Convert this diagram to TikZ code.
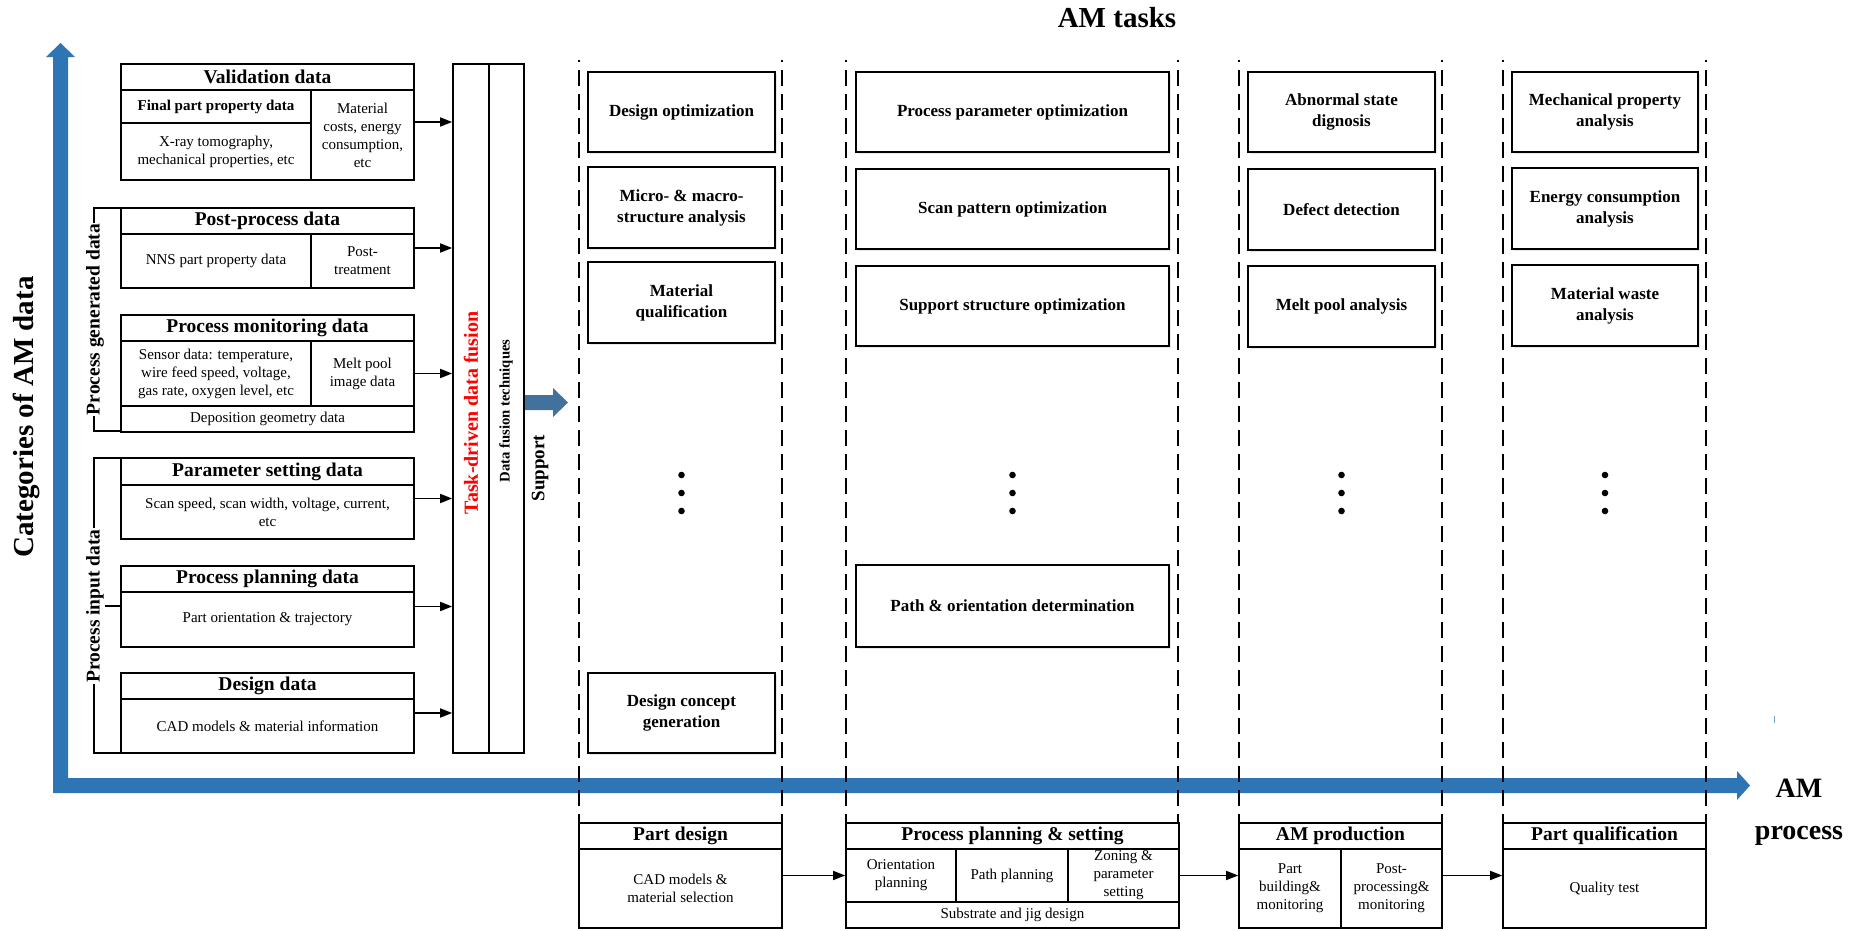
\documentclass[tikz,border=0pt]{standalone}
\usepackage{fontspec}
\setmainfont{Liberation Serif}
\usetikzlibrary{arrows.meta,shadows}
\definecolor{axisblue}{RGB}{46,117,182}
\definecolor{supportblue}{RGB}{65,113,156}

\tikzset{
  frame/.style={draw, line width=1.6pt, fill=white, inner sep=0pt, align=center},
  taskbox/.style={frame, font=\bfseries\fontsize{17}{21}\selectfont,
    drop shadow={shadow xshift=1.5pt, shadow yshift=-2pt, opacity=0.18}},
  title/.style={inner sep=0pt, font=\bfseries\fontsize{19.5}{22}\selectfont},
  subtitle/.style={inner sep=0pt, font=\bfseries\fontsize{15}{18}\selectfont},
  body/.style={inner sep=0pt, align=center, font=\fontsize{15}{18}\selectfont},
  div/.style={line width=1.3pt},
  conn/.style={line width=1.6pt, -{Triangle[length=12pt,width=9pt]}},
  lane/.style={line width=1.5pt, dash pattern=on 16pt off 8pt, dash phase=14pt},
  vlabel/.style={inner sep=1pt, rotate=90, font=\bfseries\fontsize{19.5}{22}\selectfont},
}

% box from corner (x1,y1) to corner (x2,y2), in picture units
\newcommand\mkbox[7][frame]{%
  \node[#1, minimum width={(#5)-(#3)}, minimum height={(#6)-(#4)}] (#2)
    at ({((#3)+(#5))/2},{((#4)+(#6))/2}) {#7};}

\begin{document}
\begin{tikzpicture}[x=1pt, y=-1pt]
\useasboundingbox (0,0) rectangle (1868,930);

% ---- axes ----
\fill[axisblue] (53,57) -- (46,57) -- (60.5,43) -- (75,57) -- (68,57) -- (68,778)
  -- (1737,778) -- (1737,771) -- (1750,785.5) -- (1737,800) -- (1737,793)
  -- (53,793) -- cycle;
\draw[axisblue!70, line width=1.2pt] (1774.5,716) -- (1774.5,723);

\node[inner sep=0pt, rotate=90, font=\bfseries\fontsize{29}{34}\selectfont] (ylab) at (26,417) {Categories of AM data};
\node[inner sep=0pt, align=center, font=\bfseries\fontsize{28}{42}\selectfont] (xlab) at (1799,812) {AM\\process};
\node[inner sep=0pt, font=\bfseries\fontsize{29}{34}\selectfont] (tasks) at (1117,18) {AM tasks};

% ---- lanes ----
\foreach \lx in {579,782,846,1178,1239,1442,1503,1706}
  \draw[lane] (\lx,60) -- (\lx,823);

% ---- data categories ----
\mkbox{val}{121}{64}{414}{180}{}
\node[title] (valT) at (267.5,77) {Validation data};
\draw[div] (121,90) -- (414,90);
\draw[div] (311,90) -- (311,180);
\draw[div] (121,123) -- (311,123);
\node[subtitle] (valF) at (216,106.5) {Final part property data};
\node[body] (valX) at (216,151.5) {X-ray tomography,\\mechanical properties, etc};
\node[body] (valM) at (362.5,135.5) {Material\\costs, energy\\consumption,\\etc};

\mkbox{post}{121}{208}{414}{288}{}
\node[title] (postT) at (267.5,221) {Post-process data};
\draw[div] (121,234) -- (414,234);
\draw[div] (311,234) -- (311,288);
\node[body] (postN) at (216,261) {NNS part property data};
\node[body] (postP) at (362.5,261) {Post-\\treatment};

\mkbox{mon}{121}{315}{414}{432}{}
\node[title] (monT) at (267.5,328) {Process monitoring data};
\draw[div] (121,341) -- (414,341);
\draw[div] (121,406) -- (414,406);
\draw[div] (311,341) -- (311,406);
\node[body] (monS) at (216,373.5) {Sensor data: temperature,\\wire feed speed, voltage,\\gas rate, oxygen level, etc};
\node[body] (monM) at (362.5,373.5) {Melt pool\\image data};
\node[body] (monD) at (267.5,419) {Deposition geometry data};

\mkbox{par}{121}{458}{414}{539}{}
\node[title] (parT) at (267.5,471.5) {Parameter setting data};
\draw[div] (121,485) -- (414,485);
\node[body] (parS) at (267.5,512) {Scan speed, scan width, voltage, current,\\etc};

\mkbox{plan}{121}{566}{414}{647}{}
\node[title] (planT) at (267.5,579) {Process planning data};
\draw[div] (121,592) -- (414,592);
\node[body] (planP) at (267.5,619.5) {Part orientation \& trajectory};

\mkbox{des}{121}{673}{414}{753}{}
\node[title] (desT) at (267.5,686) {Design data};
\draw[div] (121,699) -- (414,699);
\node[body] (desC) at (267.5,726) {CAD models \& material information};

% group brackets
\draw[div] (121,208) -- (94,208) -- (94,431) -- (121,431);
\node[vlabel, fill=white] (gen) at (95,319.5) {Process generated data};
\draw[div] (121,458) -- (94,458) -- (94,753) -- (121,753);
\draw[div] (94,606) -- (121,606);
\node[vlabel, fill=white] (inp) at (95,606) {Process input data};

% ---- fusion column ----
\mkbox{fus}{453}{64}{524}{753}{}
\draw[div] (489,64) -- (489,753);
\node[inner sep=0pt, rotate=90, text=red, font=\bfseries\fontsize{20}{24}\selectfont] (fusA) at (471,413) {Task-driven data fusion};
\node[inner sep=0pt, rotate=90, font=\bfseries\fontsize{14.7}{18}\selectfont] (fusB) at (506,411) {Data fusion techniques};

\foreach \src in {val,post,mon,par,plan,des}
  \draw[conn] (\src.east) -- (\src.east -| fus.west);

% support arrow
\fill[supportblue] (525,395) -- (553,395) -- (553,388) -- (568,402.5) -- (553,417) -- (553,410) -- (525,410) -- cycle;
\node[inner sep=0pt, rotate=90, font=\bfseries\fontsize{19}{22}\selectfont] (sup) at (540,468) {Support};

% ---- task boxes ----
\mkbox[taskbox]{t11}{588}{72}{775}{152}{Design optimization}
\mkbox[taskbox]{t12}{588}{167}{775}{248}{Micro- \& macro-\\structure analysis}
\mkbox[taskbox]{t13}{588}{262}{775}{343}{Material\\qualification}
\mkbox[taskbox]{t14}{588}{673}{775}{753}{Design concept\\generation}

\mkbox[taskbox]{t21}{856}{72}{1169}{152}{Process parameter optimization}
\mkbox[taskbox]{t22}{856}{169}{1169}{249}{Scan pattern optimization}
\mkbox[taskbox]{t23}{856}{266}{1169}{346}{Support structure optimization}
\mkbox[taskbox]{t24}{856}{565}{1169}{647}{Path \& orientation determination}

\mkbox[taskbox]{t31}{1248}{72}{1435}{152}{Abnormal state\\dignosis}
\mkbox[taskbox]{t32}{1248}{169}{1435}{250}{Defect detection}
\mkbox[taskbox]{t33}{1248}{266}{1435}{347}{Melt pool analysis}

\mkbox[taskbox]{t41}{1512}{72}{1698}{152}{Mechanical property\\analysis}
\mkbox[taskbox]{t42}{1512}{168}{1698}{249}{Energy consumption\\analysis}
\mkbox[taskbox]{t43}{1512}{265}{1698}{346}{Material waste\\analysis}

% vertical ellipses
\foreach \cx in {681.5,1012.5,1341.5,1605}
  \foreach \cy in {475,493,511}
    \fill (\cx,\cy) circle (3.3);

% ---- process stages ----
\mkbox{pd}{579}{823}{782}{928}{}
\node[title] (pdT) at (680.5,836) {Part design};
\draw[div] (579,849) -- (782,849);
\node[body] (pdC) at (680.5,888) {CAD models \&\\material selection};

\mkbox{pp}{846}{823}{1179}{928}{}
\node[title] (ppT) at (1012.5,836) {Process planning \& setting};
\draw[div] (846,849) -- (1179,849);
\draw[div] (846,902) -- (1179,902);
\draw[div] (956,849) -- (956,902);
\draw[div] (1068,849) -- (1068,902);
\node[body] (ppO) at (901,875.5) {Orientation\\planning};
\node[body] (ppP) at (1012,875.5) {Path planning};
\node[body] (ppZ) at (1123.5,875.5) {Zoning \&\\parameter\\setting};
\node[body] (ppS) at (1012.5,915) {Substrate and jig design};

\mkbox{amp}{1239}{823}{1442}{928}{}
\node[title] (ampT) at (1340.5,836) {AM production};
\draw[div] (1239,849) -- (1442,849);
\draw[div] (1341,849) -- (1341,928);
\node[body] (ampB) at (1290,888.5) {Part\\building\&\\monitoring};
\node[body] (ampP) at (1391.5,888.5) {Post-\\processing\&\\monitoring};

\mkbox{pq}{1503}{823}{1706}{928}{}
\node[title] (pqT) at (1604.5,836) {Part qualification};
\draw[div] (1503,849) -- (1706,849);
\node[body] (pqQ) at (1604.5,888.5) {Quality test};

\draw[conn] (pd.east) -- (pp.west);
\draw[conn] (pp.east) -- (amp.west);
\draw[conn] (amp.east) -- (pq.west);
\end{tikzpicture}
\end{document}
